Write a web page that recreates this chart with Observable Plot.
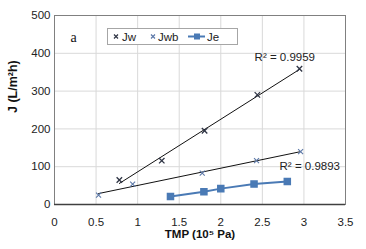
<!DOCTYPE html>
<html><head><meta charset="utf-8">
<script src="https://cdn.jsdelivr.net/npm/d3@7"></script>
<script src="https://cdn.jsdelivr.net/npm/@observablehq/plot@0.6"></script>
<style>
body{margin:0;background:#fff;font-family:"Liberation Sans",Arial,sans-serif;}
#wrap{position:relative;width:366px;height:249px;}
#legend{position:absolute;left:107px;top:28px;width:129px;height:15px;border:1px solid #a6a6a6;background:#fff;}
</style></head><body><div id="wrap"></div>
<script>
const seriesNames = ["Jw", "Jwb", "Je"];
const jwTMP = [0.78, 1.29, 1.805, 2.44, 2.946];
const jwFlux = [65, 116, 195, 290, 359];
const jwbTMP = [0.53, 0.94, 1.777, 2.43, 2.96];
const jwbFlux = [25, 54, 83, 116, 140];
const jeTMP = [1.395, 1.797, 2.0, 2.4, 2.8];
const jeFlux = [21, 34, 42, 54, 61];
const xTicks = [0, 0.5, 1, 1.5, 2, 2.5, 3, 3.5];
const yTicks = [0, 100, 200, 300, 400, 500];
const r2Labels = ["R² = 0.9959", "R² = 0.9893"];
const r2X = [2.77, 3.07];
const r2Y = [389, 100];
const panelLabel = "a";
const xLabel = "TMP (10⁵ Pa)";
const yLabel = "J (L/m²h)";

const colors = {Jw: "#2f3545", Jwb: "#5d79a8", Je: "#4a7ab5"};
const jw = jwTMP.map((x, i) => ({x, y: jwFlux[i]}));
const jwb = jwbTMP.map((x, i) => ({x, y: jwbFlux[i]}));
const je = jeTMP.map((x, i) => ({x, y: jeFlux[i]}));
const r2 = r2Labels.map((t, i) => ({t, x: r2X[i], y: r2Y[i]}));
const fmt = d3.format("~g");

const chart = Plot.plot({
  width: 366, height: 249,
  marginLeft: 54, marginRight: 21, marginTop: 15, marginBottom: 45,
  style: {fontFamily: "'Liberation Sans', Arial, sans-serif", fontSize: "11px", color: "#222"},
  x: {domain: [0, 3.5], ticks: xTicks, tickFormat: fmt},
  y: {domain: [0, 500], ticks: yTicks},
  marks: [
    Plot.gridX(xTicks, {stroke: "#d9d9d9", strokeOpacity: 1}),
    Plot.gridY(yTicks, {stroke: "#d9d9d9", strokeOpacity: 1}),
    Plot.frame({stroke: "#808080"}),
    Plot.ruleY([0], {stroke: "#404040", strokeWidth: 1.5}),
    Plot.axisX(xTicks, {tickSize: 0, tickPadding: 13, label: null, fontSize: 11.5, tickFormat: fmt}),
    Plot.axisY(yTicks, {tickSize: 0, tickPadding: 4, label: null, fontSize: 11.5, tickFormat: fmt}),
    Plot.text([xLabel], {frameAnchor: "bottom", dy: 33, fontWeight: "bold", fontSize: 11.5, fill: "#111"}),
    Plot.text([yLabel], {frameAnchor: "left", dx: -42, dy: 3, rotate: -90, fontWeight: "bold", fontSize: 12.5, fill: "#111"}),
    Plot.text([panelLabel], {frameAnchor: "top-left", dx: 16, dy: 17, fontFamily: "'Liberation Serif', serif", fontSize: 14, fill: "#111"}),
    Plot.linearRegressionY(jw, {x: "x", y: "y", stroke: "#111", strokeWidth: 1, ci: 0}),
    Plot.linearRegressionY(jwb, {x: "x", y: "y", stroke: "#111", strokeWidth: 1, ci: 0}),
    Plot.dot(jw, {x: "x", y: "y", symbol: "times", r: 2.6, stroke: colors.Jw, strokeWidth: 1.3}),
    Plot.dot(jwb, {x: "x", y: "y", symbol: "times", r: 2.4, stroke: colors.Jwb, strokeWidth: 1.1}),
    Plot.line(je, {x: "x", y: "y", stroke: colors.Je, strokeWidth: 2}),
    Plot.dot(je, {x: "x", y: "y", symbol: "square", r: 3.4, fill: colors.Je, stroke: colors.Je}),
    Plot.text(r2, {x: "x", y: "y", text: "t", fontSize: 11.5, fill: "#222"})
  ]
});
const wrap = document.getElementById("wrap");
wrap.appendChild(chart);

// legend
const leg = document.createElement("div");
leg.id = "legend";
const ns = "http://www.w3.org/2000/svg";
const svg = document.createElementNS(ns, "svg");
svg.setAttribute("width", 129); svg.setAttribute("height", 15);
const layout = [{m: 8, t: 14}, {m: 45, t: 50}, {m: 89, t: 99}];
seriesNames.forEach((name, i) => {
  const L = layout[i], c = colors[name];
  if (name === "Je") {
    const ln = document.createElementNS(ns, "line");
    ln.setAttribute("x1", 80); ln.setAttribute("x2", 97); ln.setAttribute("y1", 7.5); ln.setAttribute("y2", 7.5);
    ln.setAttribute("stroke", c); ln.setAttribute("stroke-width", 2);
    svg.appendChild(ln);
    const sq = document.createElementNS(ns, "rect");
    sq.setAttribute("x", L.m - 3); sq.setAttribute("y", 4.5); sq.setAttribute("width", 6); sq.setAttribute("height", 6);
    sq.setAttribute("fill", c);
    svg.appendChild(sq);
  } else {
    const p = document.createElementNS(ns, "path");
    const s = 2;
    p.setAttribute("d", `M${L.m - s},${7.5 - s}L${L.m + s},${7.5 + s}M${L.m - s},${7.5 + s}L${L.m + s},${7.5 - s}`);
    p.setAttribute("stroke", c); p.setAttribute("stroke-width", 1.2);
    svg.appendChild(p);
  }
  const tx = document.createElementNS(ns, "text");
  tx.setAttribute("x", L.t); tx.setAttribute("y", 12);
  tx.setAttribute("font-size", 11.5); tx.setAttribute("fill", "#222");
  tx.setAttribute("font-family", "Liberation Sans, Arial, sans-serif");
  tx.textContent = name;
  svg.appendChild(tx);
});
leg.appendChild(svg);
wrap.appendChild(leg);
</script>
</body></html>
